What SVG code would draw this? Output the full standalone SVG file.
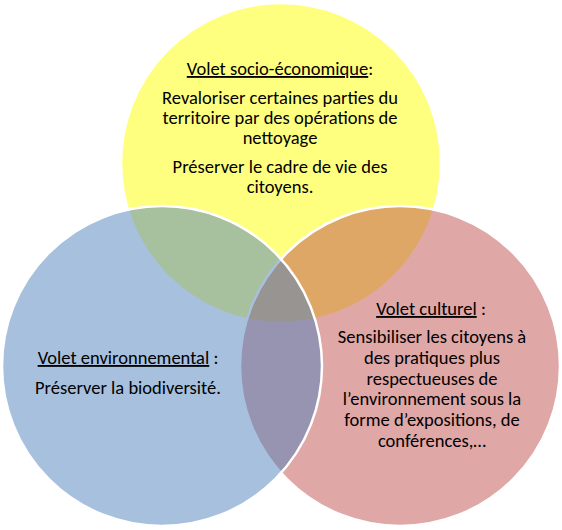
<svg xmlns="http://www.w3.org/2000/svg" width="562" height="530" viewBox="0 0 562 530">
<style>
.c{stroke:#fff;stroke-width:2.5}
.t{font-family:"Carlito","Liberation Sans",Arial,sans-serif;font-size:18.5px;fill:#000;text-anchor:middle}
.u{text-decoration:underline}
</style>
<rect width="562" height="530" fill="#fff"/>
<g id="socio"><circle class="c" cx="281" cy="163" r="160" fill="#FFFF00" fill-opacity="0.5"/></g>
<g id="culturel"><circle class="c" cx="400" cy="366" r="160" fill="#C0504D" fill-opacity="0.5"/></g>
<g id="environnemental"><circle class="c" cx="162" cy="366" r="160" fill="#4F81BD" fill-opacity="0.5"/></g>
<g id="socio-text" class="t">
<text x="280" y="75"><tspan class="u">Volet socio-économique</tspan>:</text>
<text x="280" y="104">Revaloriser certaines parties du</text>
<text x="280" y="124">territoire par des opérations de</text>
<text x="280" y="144">nettoyage</text>
<text x="280" y="173">Préserver le cadre de vie des</text>
<text x="280" y="193">citoyens.</text>
</g>
<g id="env-text" class="t">
<text x="128" y="364"><tspan class="u">Volet environnemental</tspan> :</text>
<text x="128" y="394">Préserver la biodiversité.</text>
</g>
<g id="cult-text" class="t">
<text x="431" y="315"><tspan class="u">Volet culturel</tspan> :</text>
<text x="432" y="343">Sensibiliser les citoyens à</text>
<text x="432" y="364">des pratiques plus</text>
<text x="432" y="385">respectueuses de</text>
<text x="432" y="405">l’environnement sous la</text>
<text x="432" y="426">forme d’expositions, de</text>
<text x="432" y="447">conférences,…</text>
</g>
<g id="connectors"/>
</svg>
